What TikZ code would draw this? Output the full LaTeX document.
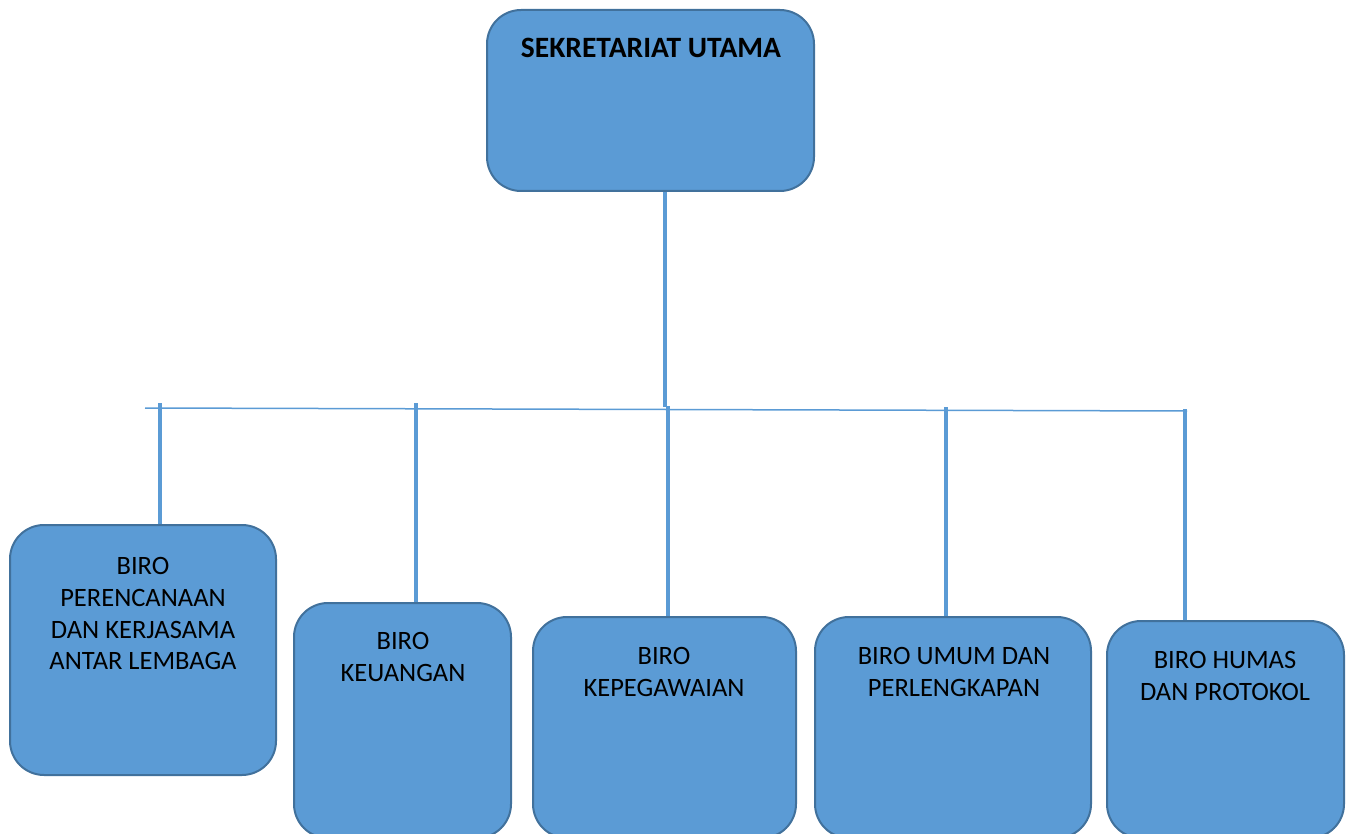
\documentclass[tikz,border=0pt]{standalone}
\usepackage{fontspec}
\setmainfont{Carlito}
\definecolor{boxfill}{HTML}{5B9BD5}
\definecolor{boxline}{HTML}{41719C}
\definecolor{conn}{HTML}{5B9BD5}
\begin{document}
\begin{tikzpicture}[x=1pt,y=-1pt,
  box/.style={draw=boxline, fill=boxfill, line width=2pt, rounded corners=34pt, inner sep=0pt, rectangle},
  lbl/.style={anchor=north, align=center, inner sep=0pt, font=\fontsize{26.5}{31.8}\selectfont},
  bus/.style={draw=conn, line width=1.5pt},
  drop/.style={draw=conn, line width=3.5pt}]
\useasboundingbox (0,0) rectangle (1352,834);
\clip (0,0) rectangle (1352,834);
% boxes
\node[box, minimum width=327pt, minimum height=181pt] (top) at (650.5,100.5) {};
\node[box, minimum width=266pt, minimum height=250pt] (b1) at (143,650) {};
\node[box, minimum width=217pt, minimum height=235pt] (b2) at (402.5,720.5) {};
\node[box, minimum width=263pt, minimum height=221pt] (b3) at (664.5,727.5) {};
\node[box, minimum width=276pt, minimum height=221pt] (b4) at (953,727.5) {};
\node[box, minimum width=237pt, minimum height=217pt] (b5) at (1225.5,729.5) {};
% labels
\node[lbl, font=\fontsize{29.5}{35}\selectfont\bfseries] (t0) at (651,38) {SEKRETARIAT UTAMA};
\node[lbl] (t1) at (143,557) {BIRO\\PERENCANAAN\\DAN KERJASAMA\\ANTAR LEMBAGA};
\node[lbl] (t2) at (403,632) {BIRO\\KEUANGAN};
\node[lbl] (t3) at (664,647) {BIRO\\KEPEGAWAIAN};
\node[lbl] (t4) at (954,647) {BIRO UMUM DAN\\PERLENGKAPAN};
\node[lbl] (t5) at (1225,651) {BIRO HUMAS\\DAN PROTOKOL};
% connectors
\coordinate (busL) at (145,408);
\coordinate (busR) at (1187,411);
\coordinate (d0) at (665,407);
\coordinate (d1) at (160,403);
\coordinate (d2) at (416,403);
\coordinate (d3) at (668,406);
\coordinate (d4) at (946,407);
\coordinate (d5) at (1185,409);
\draw[bus] (busL) -- (busR);
\draw[drop] (top.south -| d0) -- (d0);
\draw[drop] (d1) -- (d1 |- b1.north);
\draw[drop] (d2) -- (d2 |- b2.north);
\draw[drop] (d3) -- (d3 |- b3.north);
\draw[drop] (d4) -- (d4 |- b4.north);
\draw[drop] (d5) -- (d5 |- b5.north);
\end{tikzpicture}
\end{document}
